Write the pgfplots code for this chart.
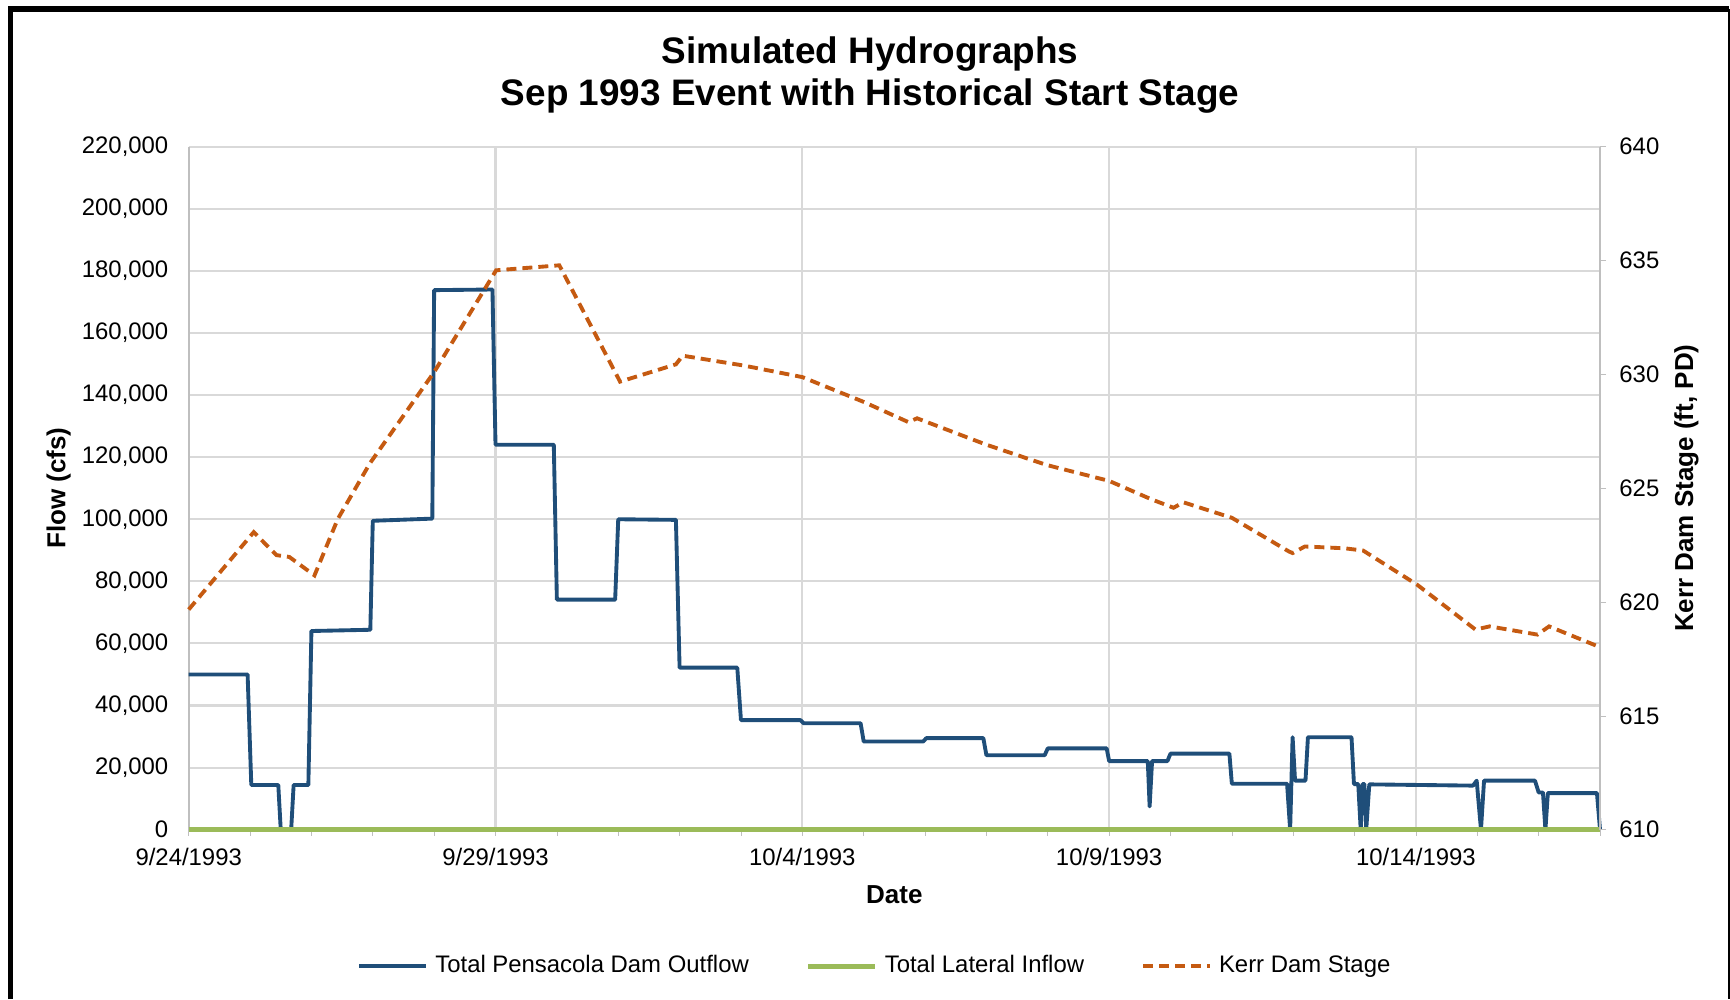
\documentclass[border=0pt]{standalone}
\usepackage{fontspec}
\setmainfont{Liberation Sans}
\usepackage{pgfplots}
\pgfplotsset{compat=1.18}

\definecolor{outflow}{HTML}{1F4E79}
\definecolor{lateral}{HTML}{9BBB59}
\definecolor{kerr}{HTML}{C55A11}
\definecolor{gridgray}{HTML}{D9D9D9}
\definecolor{axisgray}{HTML}{BFBFBF}

\newcommand{\tickfont}{\fontsize{6.8}{8}\selectfont}
\newcommand{\labfont}{\fontsize{7.4}{9}\selectfont\bfseries}

% days after 9/24/1993 00:00, flow in cfs
\pgfplotstableread{
day flow
0.00 50000
0.96 50000
1.02 14400
1.46 14400
1.50 0
1.67 0
1.71 14400
1.95 14400
2.00 64000
2.96 64400
3.00 99500
3.97 100200
4.00 173800
4.95 174000
5.00 124000
5.95 124000
6.00 74100
6.95 74100
7.00 100000
7.94 99800
8.00 52200
8.94 52200
9.00 35300
9.97 35300
10.02 34300
10.95 34300
11.00 28400
11.97 28400
12.02 29500
12.95 29500
13.00 24000
13.95 24000
14.00 26200
14.96 26200
15.00 22100
15.63 22100
15.66 7500
15.70 22100
15.95 22100
16.00 24500
16.96 24500
17.00 14800
17.90 14800
17.95 0
17.99 29800
18.03 15800
18.20 15800
18.24 29800
18.95 29800
18.99 14700
19.06 14700
19.10 0
19.13 14700
19.16 14700
19.19 0
19.24 14600
20.93 14200
20.99 15800
21.06 0
21.11 15800
21.94 15800
22.00 12000
22.07 12000
22.11 0
22.15 11800
22.95 11800
23.00 0
}\outflowtable

\pgfplotstableread{
day flow
0 0
23 0
}\lateraltable

% Kerr Dam stage, ft PD
\pgfplotstableread{
day stage
0.00 619.67
1.06 623.07
1.43 622.06
1.64 621.98
2.05 621.17
2.43 623.65
2.95 626.08
4.00 630.10
5.01 634.57
6.04 634.79
7.03 629.68
7.94 630.44
8.05 630.82
9.04 630.39
10.00 629.88
11.00 628.79
11.73 627.90
11.87 628.07
13.00 626.91
13.98 626.02
15.00 625.32
15.69 624.51
16.05 624.14
16.21 624.38
17.00 623.70
17.93 622.22
17.99 622.15
18.19 622.44
18.84 622.36
19.14 622.26
20.02 620.76
20.97 618.79
21.20 618.93
21.98 618.57
22.17 618.93
22.96 618.06
}\kerrtable

\pgfplotsset{
  hydro/.style={
    scale only axis,
    width=141.13mm, height=68.3mm,
    at={(18.87mm,16.93mm)}, anchor=south west,
    xmin=0, xmax=23,
    clip=false,
    tick label style={font=\tickfont},
    /pgf/number format/assume math mode=true,
    axis line style={axisgray, line width=0.6pt, -},
    tick align=outside,
    major tick length=0.6mm,
    minor tick length=0.6mm,
  },
  outflowstyle/.style={outflow, line width=1.1pt, line join=round},
  lateralstyle/.style={lateral, line width=1.4pt},
  kerrstyle/.style={kerr, line width=1.1pt, dash pattern=on 1.0mm off 0.6mm},
}

\begin{document}
\begin{tikzpicture}
\path[use as bounding box] (0,0) rectangle (173mm,99.9mm);

\begin{axis}[
  hydro,
  ymin=0, ymax=220000,
  ytick={0,20000,...,220000},
  scaled y ticks=false,
  yticklabel style={/pgf/number format/fixed, /pgf/number format/1000 sep={,}, xshift=-0.2mm},
  axis y line*=left, axis x line*=bottom,
  ymajorgrids, xmajorgrids,
  grid style={gridgray, line width=0.6pt},
  xtick={0,5,10,15,20},
  xticklabels={9/24/1993,9/29/1993,10/4/1993,10/9/1993,10/14/1993},
  minor xtick={1,...,23},
  xtick style={axisgray},
  ytick style={draw=none},
  xlabel={Date}, ylabel={Flow (cfs)},
  label style={font=\labfont},
  xlabel style={at={(axis description cs:0.5,-0.0956)}, anchor=center},
  ylabel style={at={(axis description cs:-0.0921,0.5)}, anchor=center},
  title={Simulated Hydrographs\\Sep 1993 Event with Historical Start Stage},
  title style={font=\fontsize{10.5}{12}\selectfont\bfseries, align=center,
    at={(axis description cs:0.4828,1.074)}, anchor=center},
]
\addplot[outflowstyle] table[x=day, y=flow] {\outflowtable};
\addplot[lateralstyle] table[x=day, y=flow] {\lateraltable};
\end{axis}

\begin{axis}[
  hydro,
  ymin=610, ymax=640,
  ytick={610,615,...,640},
  axis y line*=right, axis x line=none,
  ytick style={axisgray},
  yticklabel style={xshift=0.1mm},
  ylabel={Kerr Dam Stage (ft, PD)},
  label style={font=\labfont},
  ylabel style={at={(axis description cs:1.0612,0.5)}, anchor=center},
  legend style={at={(axis description cs:0.488,-0.2)}, anchor=center,
    draw=none, fill=none, font=\tickfont, legend columns=3,
    /tikz/every even column/.append style={column sep=5mm}},
  legend image code/.code={\draw[#1] (0mm,0mm) -- (6.7mm,0mm);},
]
\addlegendimage{outflowstyle}
\addlegendentry{Total Pensacola Dam Outflow}
\addlegendimage{lateralstyle}
\addlegendentry{Total Lateral Inflow}
\addplot[kerrstyle] table[x=day, y=stage] {\kerrtable};
\addlegendentry{Kerr Dam Stage}
\end{axis}

\draw[black, line width=0.55mm] (1.05mm,0) -- (1.05mm,99.02mm) -- (172.9mm,99.02mm);
\draw[black, line width=0.15mm] (172.9mm,99.02mm) -- (172.9mm,0);
\end{tikzpicture}
\end{document}
